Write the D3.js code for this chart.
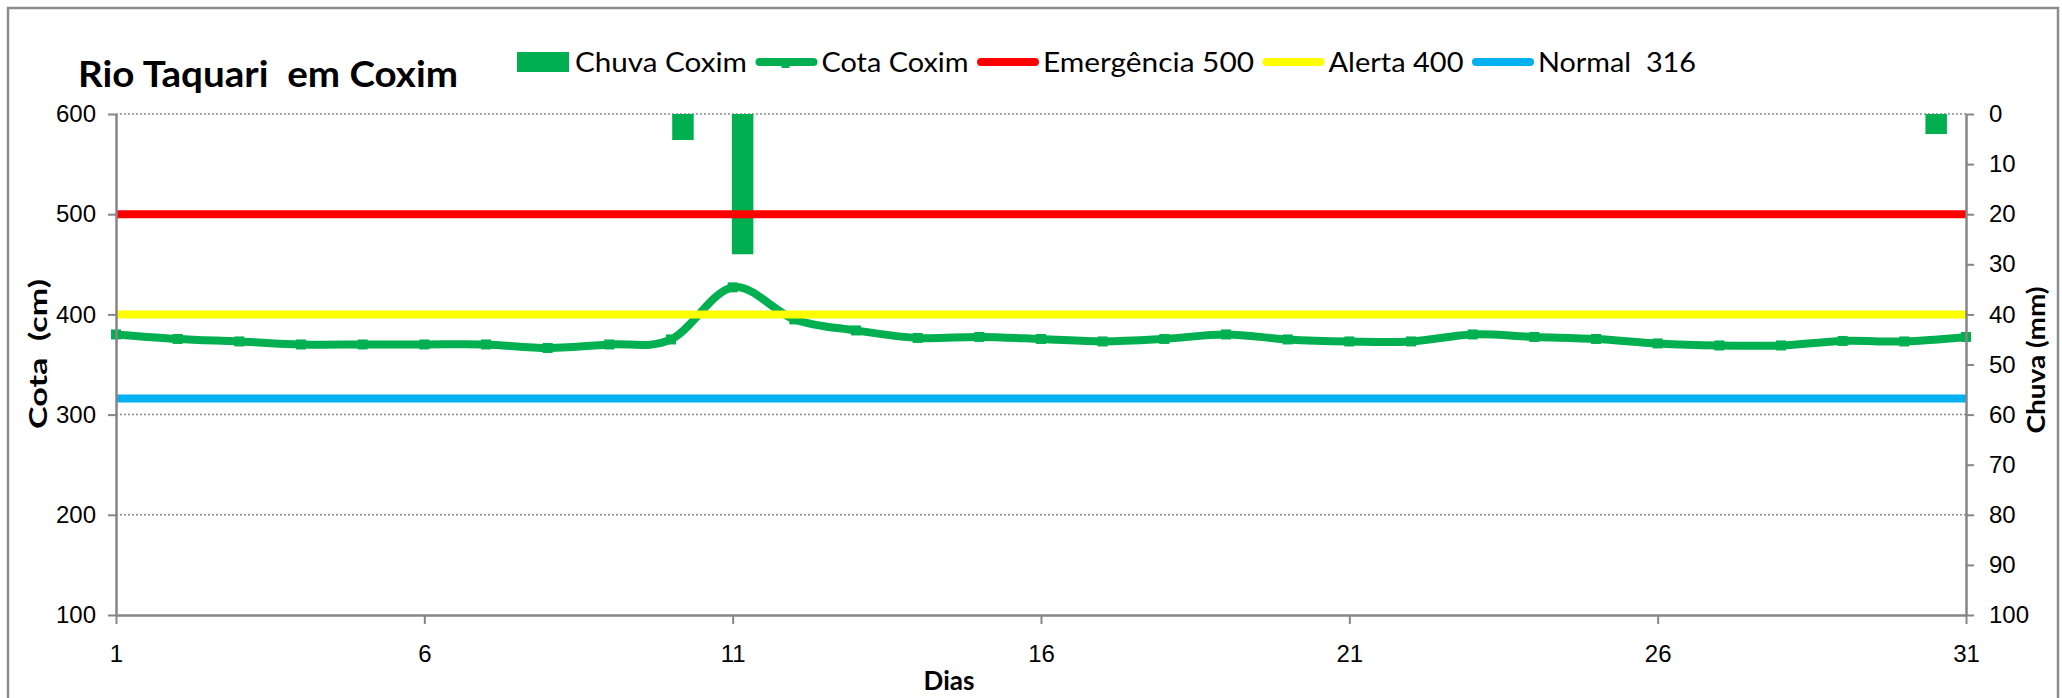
<!DOCTYPE html>
<html>
<head>
<meta charset="utf-8">
<script src="https://cdn.jsdelivr.net/npm/d3@7"></script>
<style>
  body { margin: 0; background: #fff; }
  svg { display: block; font-family: Lato, 'Open Sans', sans-serif; }
  svg text { white-space: pre; }
  .axis path, .axis line { stroke: #868686; }
  .axis text { font-size: 24px; fill: #000; }
</style>
</head>
<body>
<div id="chart"></div>
<script>
// dias do mes
const dias = [1, 2, 3, 4, 5, 6, 7, 8, 9, 10, 11, 12, 13, 14, 15, 16, 17, 18, 19, 20,
  21, 22, 23, 24, 25, 26, 27, 28, 29, 30, 31];

// cota do rio (cm)
const cotaCoxim = [380, 375.5, 373, 370, 370, 370, 370, 366.5, 370, 375, 427, 395, 384,
  376.5, 377.5, 375.5, 373, 375.5, 380, 375, 373, 373, 380, 377.5, 375.5, 371, 369, 369,
  373.5, 373, 377.5];

// chuva diaria (mm)
const chuvaCoxim = [0, 0, 0, 0, 0, 0, 0, 0, 0, 5.2, 28, 0, 0, 0, 0, 0, 0, 0, 0, 0,
  0, 0, 0, 0, 0, 0, 0, 0, 0, 0, 4];

// niveis de referencia
const niveisNomes = ['Emergência 500', 'Alerta 400', 'Normal  316'];
const niveisValores = [500, 400, 316];

const cotaTicks = [100, 200, 300, 400, 500, 600];
const chuvaTicks = [0, 10, 20, 30, 40, 50, 60, 70, 80, 90, 100];
const diasTicks = [1, 6, 11, 16, 21, 26, 31];

const legendaNomes = ['Chuva Coxim', 'Cota Coxim', ...niveisNomes];

const verde = '#00B050';
const coresNiveis = ['#FF0000', '#FFFF00', '#00B0F0'];
// largura de cada texto da legenda (px)
const legendaLarguras = [172, 147, 211, 135, 158];

const width = 2062;
const height = 698;
const plot = { left: 116, right: 1966, top: 114, bottom: 615 };

const svg = d3.select('#chart')
  .append('svg')
  .attr('width', width)
  .attr('height', height);

// moldura do grafico
svg.append('rect')
  .attr('x', 8).attr('y', 8)
  .attr('width', 2050).attr('height', 720)
  .attr('fill', 'none')
  .attr('stroke', '#8c8c8c')
  .attr('stroke-width', 2.5);

const xScale = d3.scaleLinear().domain([1, 31]).range([plot.left, plot.right]);
const xBand = d3.scaleBand().domain(dias).range([plot.left, plot.right])
  .paddingInner(0.64).paddingOuter(0.32);
const yCota = d3.scaleLinear().domain([100, 600]).range([plot.bottom, plot.top]);
const yChuva = d3.scaleLinear().domain([0, 100]).range([plot.top, plot.bottom]);

// gridlines pontilhadas
svg.append('g')
  .selectAll('line')
  .data(cotaTicks.filter(d => d > 100))
  .join('line')
  .attr('x1', plot.left).attr('x2', plot.right)
  .attr('y1', d => yCota(d)).attr('y2', d => yCota(d))
  .attr('stroke', '#8a8a8a')
  .attr('stroke-width', 1.5)
  .attr('stroke-dasharray', '2,2');

// barras de chuva (eixo invertido)
svg.append('g')
  .selectAll('rect')
  .data(dias.map((d, i) => ({ dia: d, chuva: chuvaCoxim[i] })).filter(d => d.chuva > 0))
  .join('rect')
  .attr('x', d => xBand(d.dia))
  .attr('width', xBand.bandwidth())
  .attr('y', yChuva(0))
  .attr('height', d => yChuva(d.chuva) - yChuva(0))
  .attr('fill', verde);

// linha da cota, suavizada
const cotaData = dias.map((d, i) => ({ dia: d, cota: cotaCoxim[i] }));
const line = d3.line()
  .x(d => xScale(d.dia))
  .y(d => yCota(d.cota))
  .curve(d3.curveCardinal.tension(0));

svg.append('path')
  .datum(cotaData)
  .attr('fill', 'none')
  .attr('stroke', verde)
  .attr('stroke-width', 8)
  .attr('d', line);

svg.append('g')
  .selectAll('rect')
  .data(cotaData)
  .join('rect')
  .attr('x', d => xScale(d.dia) - 5)
  .attr('y', d => yCota(d.cota) - 5)
  .attr('width', 10).attr('height', 10)
  .attr('fill', verde);

// niveis de referencia
svg.append('g')
  .selectAll('line')
  .data(niveisValores)
  .join('line')
  .attr('x1', xScale(1)).attr('x2', xScale(31))
  .attr('y1', d => yCota(d)).attr('y2', d => yCota(d))
  .attr('stroke', (d, i) => coresNiveis[i])
  .attr('stroke-width', 8);

// eixos
svg.append('g')
  .attr('class', 'axis')
  .attr('transform', `translate(${plot.left},0)`)
  .call(d3.axisLeft(yCota).tickValues(cotaTicks).tickSize(8).tickPadding(12).tickSizeOuter(0));

svg.append('g')
  .attr('class', 'axis')
  .attr('transform', `translate(${plot.right},0)`)
  .call(d3.axisRight(yChuva).tickValues(chuvaTicks).tickSize(8).tickPadding(15).tickSizeOuter(0));

svg.append('g')
  .attr('class', 'axis')
  .attr('transform', `translate(0,${plot.bottom})`)
  .call(d3.axisBottom(xScale).tickValues(diasTicks).tickSize(9).tickPadding(21).tickSizeOuter(0));

svg.selectAll('.axis path').attr('stroke-width', 2.5);
svg.selectAll('.axis line').attr('stroke-width', 2);

// titulos
svg.append('text')
  .attr('x', 78).attr('y', 87)
  .attr('font-size', 36).attr('font-weight', 'bold')
  .attr('textLength', 380).attr('lengthAdjust', 'spacingAndGlyphs')
  .text('Rio Taquari  em Coxim');

svg.append('text')
  .attr('transform', 'translate(47,354) rotate(-90)')
  .attr('text-anchor', 'middle')
  .attr('font-size', 24).attr('font-weight', 'bold')
  .attr('textLength', 150).attr('lengthAdjust', 'spacingAndGlyphs')
  .text('Cota  (cm)');

svg.append('text')
  .attr('transform', 'translate(2045,360) rotate(-90)')
  .attr('text-anchor', 'middle')
  .attr('font-size', 24).attr('font-weight', 'bold')
  .attr('textLength', 147).attr('lengthAdjust', 'spacingAndGlyphs')
  .text('Chuva (mm)');

svg.append('text')
  .attr('x', 949).attr('y', 690)
  .attr('text-anchor', 'middle')
  .attr('font-size', 26).attr('font-weight', 'bold')
  .text('Dias');

// legenda
const legend = svg.append('g').attr('transform', 'translate(517,62)');
let cursor = 0;
legendaNomes.forEach((nome, i) => {
  const item = legend.append('g').attr('transform', `translate(${cursor},0)`);
  if (i === 0) {
    item.append('rect')
      .attr('x', 0).attr('y', -10).attr('width', 52).attr('height', 20)
      .attr('fill', verde);
  } else {
    item.append('line')
      .attr('x1', 4).attr('x2', 58).attr('y1', 0).attr('y2', 0)
      .attr('stroke', i === 1 ? verde : coresNiveis[i - 2])
      .attr('stroke-width', 8)
      .attr('stroke-linecap', 'round');
    if (i === 1) {
      item.append('rect')
        .attr('x', 26).attr('y', -3).attr('width', 8).attr('height', 9)
        .attr('fill', verde);
    }
  }
  const swatch = i === 0 ? 58 : 66;
  item.append('text')
    .attr('x', swatch).attr('y', 10)
    .attr('font-size', 27)
    .attr('textLength', legendaLarguras[i]).attr('lengthAdjust', 'spacingAndGlyphs')
    .text(nome);
  cursor += swatch + legendaLarguras[i] + 8.5;
});
</script>
</body>
</html>
